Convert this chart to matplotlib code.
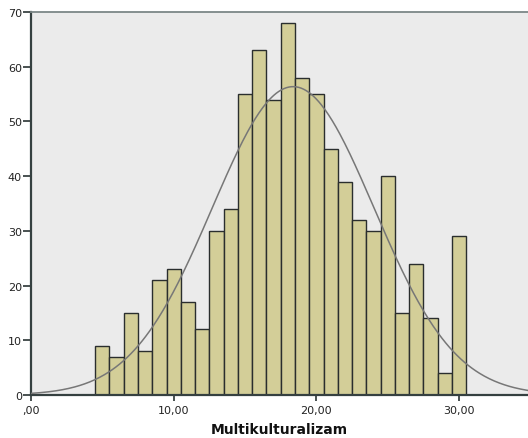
import numpy as np
import matplotlib.pyplot as plt

# histogram values (bin width 1, centres 5..30)
bin_centers = [5, 6, 7, 8, 9, 10, 11, 12, 13, 14, 15, 16, 17,
               18, 19, 20, 21, 22, 23, 24, 25, 26, 27, 28, 29, 30]
counts = [9, 7, 15, 8, 21, 23, 17, 12, 30, 34, 55, 63, 54,
          68, 58, 55, 45, 39, 32, 30, 40, 15, 24, 14, 4, 29]
bin_width = 1.0

# normal curve parameters (estimated)
mean_val = 18.37
sd_val = 5.67

x_ticks = [0, 10, 20, 30]
x_tick_labels = [',00', '10,00', '20,00', '30,00']
y_ticks = [0, 10, 20, 30, 40, 50, 60, 70]
x_label = 'Multikulturalizam'

plt.rcParams['font.family'] = ['DejaVu Sans']

fig = plt.figure(figsize=(5.28, 4.39), dpi=100)
ax = fig.add_axes([31 / 528, 43 / 439, 497 / 528, 383 / 439])
ax.set_facecolor('#ebebeb')

ax.bar(bin_centers, counts, width=bin_width, color='#d3ce98',
       edgecolor='#2a2e2e', linewidth=1.0, zorder=2)

# fitted normal curve
n_total = sum(counts)
xs = np.linspace(0, 34.83, 400)
ys = n_total * bin_width / (sd_val * np.sqrt(2 * np.pi)) * np.exp(-0.5 * ((xs - mean_val) / sd_val) ** 2)
ax.plot(xs, ys, color='#777777', linewidth=1.1, zorder=3)

ax.set_xlim(0, 34.83)
ax.set_ylim(0, 70)
ax.set_xticks(x_ticks)
ax.set_xticklabels(x_tick_labels)
ax.set_yticks(y_ticks)

ax.tick_params(axis='y', direction='out', length=5.5, width=1.2, color='#2a3333',
               labelsize=8, labelcolor='#222222', pad=1)
ax.tick_params(axis='x', direction='out', length=4.5, width=1.2, color='#2a3333',
               labelsize=8, labelcolor='#222222', pad=2.5)

for side in ['left', 'bottom']:
    ax.spines[side].set_color('#354040')
    ax.spines[side].set_linewidth(1.6)
ax.spines['top'].set_color('#7c8787')
ax.spines['top'].set_linewidth(1.3)
ax.spines['right'].set_visible(False)

ax.set_xlabel(x_label, fontsize=10, fontweight='bold', color='#111111', labelpad=5)

fig.savefig('out.png', dpi=100)
